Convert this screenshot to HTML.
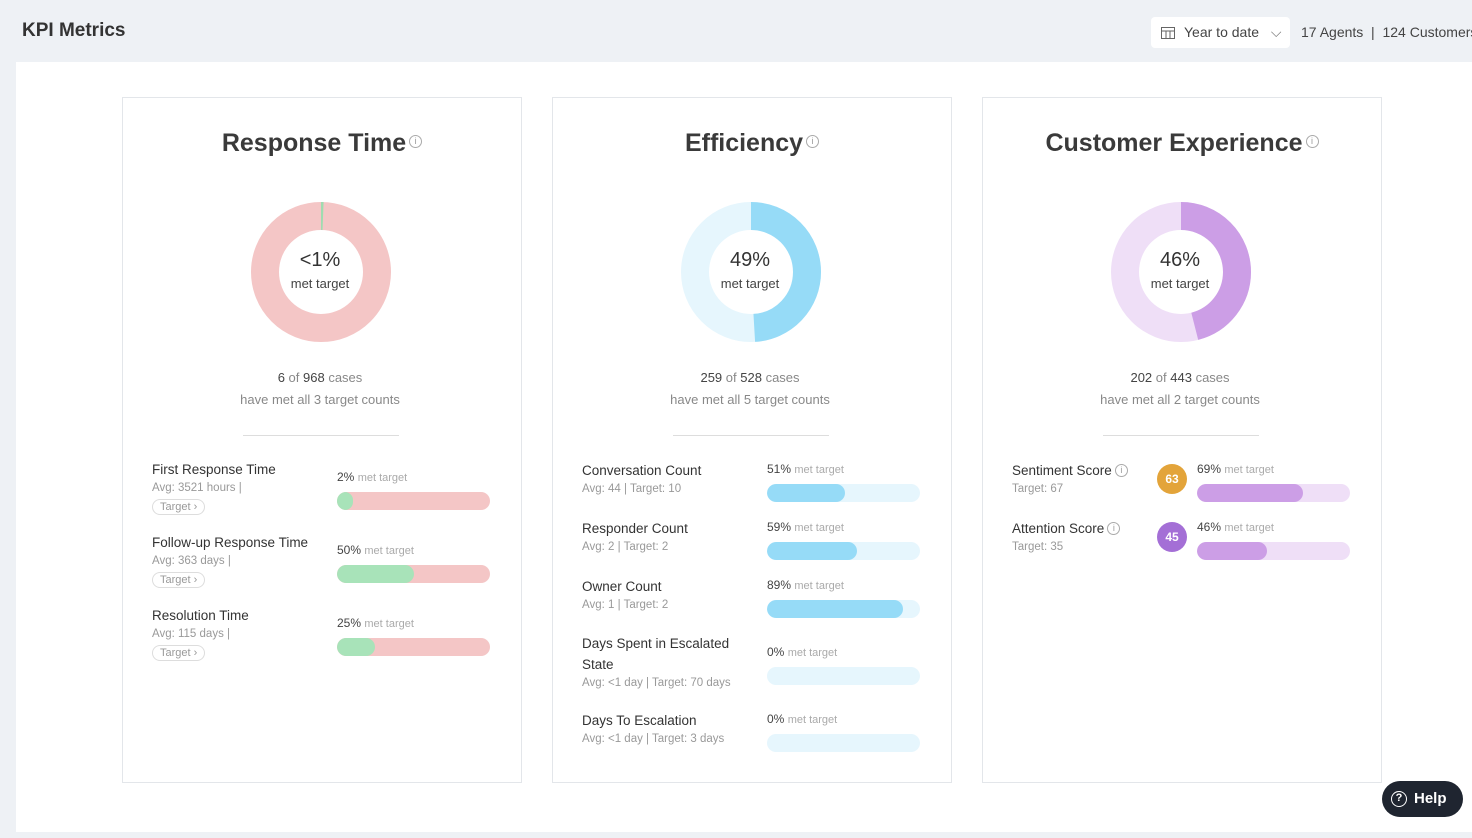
<!DOCTYPE html>
<html><head><meta charset="utf-8"><style>
*{box-sizing:border-box;margin:0;padding:0}
body{width:1472px;height:838px;overflow:hidden;background:#eef1f5;font-family:"Liberation Sans",sans-serif;position:relative;color:#333}
.abs{position:absolute}
#main{left:16px;top:62px;width:1456px;height:770px;background:#fff}
.card{top:97px;width:400px;height:686px;border:1px solid #e3e6ea;background:#fff}
.title{top:31px;width:100%;text-align:center;font-size:25px;font-weight:bold;color:#3a3a3a}
.info{display:inline-block;width:13px;height:13px;border:1px solid #aaa;border-radius:50%;font-size:9px;color:#999;text-align:center;line-height:11px;font-weight:normal;vertical-align:top;margin-top:6px;margin-left:3px}
.sum{width:100%;text-align:center;font-size:13px;color:#888;line-height:22px}
.sum b{color:#444;font-weight:normal}
.hr{left:122px;width:156px;height:1px;background:#ddd;top:337px}
.rt{font-size:13.5px;color:#333;line-height:21px}
.rs{font-size:11.5px;color:#999;margin-top:2px!important}
.pill{font-size:11px;color:#999;border:1px solid #ddd;border-radius:9px;padding:1px 7px}
.bl{font-size:12px;color:#444}
.bl span{color:#aaa;font-size:11px}
.track{height:18px;border-radius:9px;overflow:hidden;width:153px}
.fill{height:100%;border-radius:9px}
</style></head><body>
<div class="abs" style="left:22px;top:20px;font-size:19px;font-weight:bold;color:#333">KPI Metrics</div>
<div class="abs" style="left:1151px;top:17px;width:139px;height:31px;background:#fff;border-radius:4px;font-size:14px;color:#444;padding:7px 0 0 33px">
<svg class="abs" style="left:10px;top:9px" width="14" height="13"><rect x="0.5" y="1.5" width="13" height="11" fill="none" stroke="#666"/><line x1="0" y1="5" x2="14" y2="5" stroke="#666"/><line x1="5" y1="5" x2="5" y2="13" stroke="#666"/><line x1="9" y1="5" x2="9" y2="13" stroke="#666"/></svg>Year to date <span style="margin-left:8px;color:#777">⌵</span></div>
<div class="abs" style="left:1301px;top:24px;font-size:14px;color:#444;white-space:nowrap">17 Agents &nbsp;|&nbsp; 124 Customers</div>
<div id="main" class="abs"></div>
<div class="abs" style="left:1382px;top:781px;width:81px;height:36px;background:#1f2530;border-radius:18px;color:#fff;font-size:15px;font-weight:bold;padding:9px 0 0 32px"><span class="abs" style="left:9px;top:10px;width:16px;height:16px;border:1.5px solid #fff;border-radius:50%;font-size:11px;text-align:center;line-height:13px">?</span>Help</div>
<script>
const cardTitles=["Response Time","Efficiency","Customer Experience"];
const donutPct=[0.6,49,46];
const donutLabels=["<1%","49%","46%"];
const metCases=[6,259,202];
const totalCases=[968,528,443];
const targetCounts=[3,5,2];
const fgColors=["#a8e0b8","#96dbf7","#cc9ee6"];
const bgColors=["#f4c6c6","#e6f6fd","#efdff7"];
const rtNames=["First Response Time","Follow-up Response Time","Resolution Time"];
const rtAvg=["Avg: 3521 hours |","Avg: 363 days |","Avg: 115 days |"];
const rtPct=[2,50,25];
const effNames=["Conversation Count","Responder Count","Owner Count","Days Spent in Escalated State","Days To Escalation"];
const effSub=["Avg: 44 | Target: 10","Avg: 2 | Target: 2","Avg: 1 | Target: 2","Avg: <1 day | Target: 70 days","Avg: <1 day | Target: 3 days"];
const effPct=[51,59,89,0,0];
const cxNames=["Sentiment Score","Attention Score"];
const cxTarget=["Target: 67","Target: 35"];
const cxScore=[63,45];
const cxScoreColors=["#e3a43a","#a46fd6"];
const cxPct=[69,46];

const lefts=[122,552,982];
const cards=[];
cardTitles.forEach((t,i)=>{
 const c=document.createElement('div');c.className='abs card';c.style.left=lefts[i]+'px';
 
 
 c.innerHTML=`<div class="abs title">${t}<span class="info">i</span></div>`;
 const r=56,C=2*Math.PI*r,p=donutPct[i]/100;
 const svg=`<svg class="abs" style="left:127px;top:103px" width="142" height="142"><circle cx="71" cy="71" r="${r}" fill="none" stroke="${bgColors[i]}" stroke-width="28"/><circle cx="71" cy="71" r="${r}" fill="none" stroke="${i==0?'#9fdcb0':fgColors[i]}" stroke-width="28" stroke-dasharray="${C*p} ${C}" transform="rotate(-90 71 71)"/></svg>`;
 c.insertAdjacentHTML('beforeend',svg);
 c.insertAdjacentHTML('beforeend',`<div class="abs" style="left:-2px;width:100%;top:151px;text-align:center;font-size:20px;color:#333">${donutLabels[i]}</div><div class="abs" style="left:-2px;width:100%;top:178px;text-align:center;font-size:13px;color:#444">met target</div>`);
 c.insertAdjacentHTML('beforeend',`<div class="abs sum" style="top:269px;left:-2px"><b>${metCases[i]}</b> of <b>${totalCases[i]}</b> cases<br>have met all ${targetCounts[i]} target counts</div><div class="abs hr" style="left:120px"></div>`);
 document.body.appendChild(c);cards.push(c);
});
function bar(card,top,pct,fg,bg,minw){
 const d=document.createElement('div');d.className='abs';d.style.left='214px';d.style.top=top+'px';
 
 
 const w=pct>0?Math.max(minw,153*pct/100):0;
 d.innerHTML=`<div class="bl"><b style="font-weight:normal">${pct}%</b> <span>met target</span></div><div class="track" style="margin-top:8px;background:${bg}"><div class="fill" style="width:${w}px;background:${fg}"></div></div>`;
 card.appendChild(d);
}
rtNames.forEach((n,k)=>{
 const y=361+k*73;
 const d=document.createElement('div');d.className='abs';d.style.left='29px';d.style.top=y+'px';
 
 
 d.innerHTML=`<div class="rt">${n}</div><div class="rs">${rtAvg[k]}</div><div style="margin-top:3px"><span class="pill">Target ›</span></div>`;
 cards[0].appendChild(d);
 bar(cards[0],y+11,rtPct[k],"#a8e3b9","#f4c6c6",16);
});
const effY=[362,420,478,535,612];
effNames.forEach((n,k)=>{
 const y=effY[k];
 const d=document.createElement('div');d.className='abs';d.style.left='29px';d.style.top=y+'px';d.style.width='160px';
 
 
 d.innerHTML=`<div class="rt">${n}</div><div class="rs">${effSub[k]}</div>`;
 cards[1].appendChild(d);
 bar(cards[1],(k==3?y+12:y+2),effPct[k],"#96dbf7","#e6f6fd",16);
});
cxNames.forEach((n,k)=>{
 const y=362+k*58;
 const d=document.createElement('div');d.className='abs';d.style.left='29px';d.style.top=y+'px';
 
 
 d.innerHTML=`<div class="rt">${n}<span class="info" style="margin-top:4px">i</span></div><div class="rs">${cxTarget[k]}</div>`;
 cards[2].appendChild(d);
 const s=document.createElement('div');s.className='abs';
 
 
 s.style.cssText=`left:174px;top:${y+4}px;width:30px;height:30px;border-radius:50%;background:${cxScoreColors[k]};color:#fff;font-size:12px;font-weight:bold;text-align:center;line-height:30px`;
 s.textContent=cxScore[k];cards[2].appendChild(s);
 bar(cards[2],y+2,cxPct[k],"#cc9ee6","#efdff7",16);
});
</script>
</body></html>
